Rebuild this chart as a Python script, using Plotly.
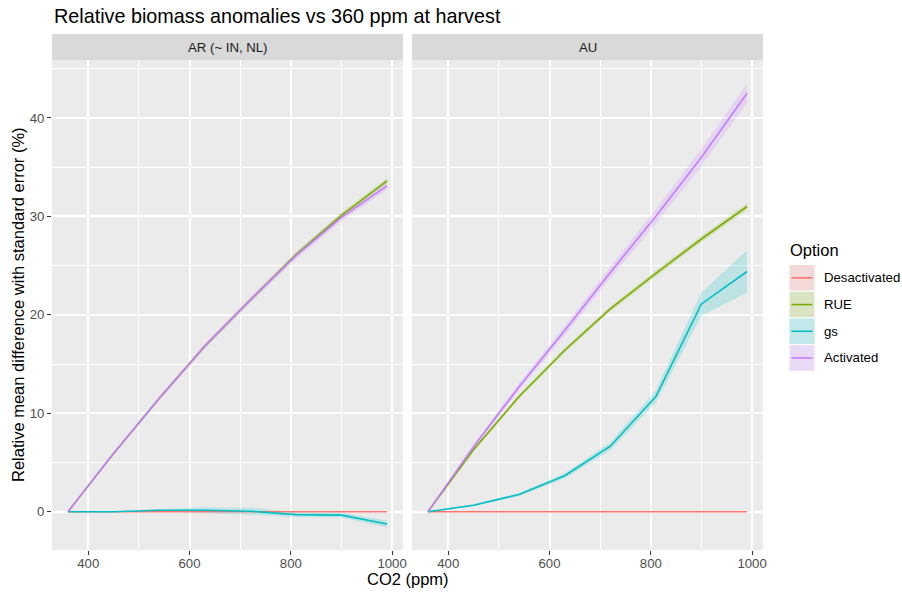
import plotly.graph_objects as go

# ---------------- data ----------------
co2 = [360, 450, 540, 630, 720, 810, 900, 990]
options = ["Desactivated", "RUE", "gs", "Activated"]
colors = ["#F8766D", "#7CAE00", "#00BFC4", "#C77CFF"]
panels = ["AR (~ IN, NL)", "AU"]

ar_desact = [0, 0, 0, 0, 0, 0, 0, 0]
ar_rue = [0, 5.9, 11.5, 16.8, 21.5, 26.1, 30.1, 33.6]
ar_gs = [0, 0.0, 0.15, 0.15, 0.05, -0.3, -0.35, -1.25]
ar_act = [0, 5.9, 11.5, 16.8, 21.5, 26.0, 29.9, 33.1]

ar_desact_se = [0, 0, 0, 0, 0, 0, 0, 0]
ar_rue_se = [0, 0.1, 0.15, 0.2, 0.2, 0.25, 0.3, 0.3]
ar_gs_se = [0, 0.05, 0.1, 0.3, 0.35, 0.25, 0.25, 0.35]
ar_act_se = [0, 0.15, 0.2, 0.25, 0.3, 0.35, 0.4, 0.4]

au_desact = [0, 0, 0, 0, 0, 0, 0, 0]
au_rue = [0, 6.3, 11.7, 16.4, 20.6, 24.2, 27.7, 31.0]
au_gs = [0, 0.65, 1.75, 3.65, 6.65, 11.7, 21.1, 24.4]
au_act = [0, 6.6, 12.7, 18.4, 24.3, 30.0, 36.0, 42.5]

au_desact_se = [0, 0, 0, 0, 0, 0, 0, 0]
au_rue_se = [0, 0.15, 0.2, 0.25, 0.25, 0.3, 0.3, 0.35]
au_gs_se = [0, 0.1, 0.15, 0.25, 0.4, 0.6, 1.2, 2.15]
au_act_se = [0, 0.25, 0.35, 0.5, 0.6, 0.75, 0.9, 1.0]

x_ticks = [400, 600, 800, 1000]
y_ticks = [0, 10, 20, 30, 40]

panel_data = {
    panels[0]: ([ar_desact, ar_rue, ar_gs, ar_act],
                [ar_desact_se, ar_rue_se, ar_gs_se, ar_act_se]),
    panels[1]: ([au_desact, au_rue, au_gs, au_act],
                [au_desact_se, au_rue_se, au_gs_se, au_act_se]),
}

FONT = "Liberation Sans, Arial, sans-serif"
ALPHA = 0.2
S_TICK, S_STRIP, S_LEG, S_AXT, S_TITLE = 13.2, 13.2, 13.2, 16.5, 19.8


def rgba(hexc, a):
    h = hexc.lstrip("#")
    r, g, b = int(h[0:2], 16), int(h[2:4], 16), int(h[4:6], 16)
    return f"rgba({r},{g},{b},{a})"


def blend(hexc, a, base=(242, 242, 242)):
    h = hexc.lstrip("#")
    c = [int(h[i:i + 2], 16) for i in (0, 2, 4)]
    m = [round(base[i] * (1 - a) + c[i] * a) for i in range(3)]
    return f"rgb({m[0]},{m[1]},{m[2]})"


fig = go.Figure()

# ribbons first
for pi, pname in enumerate(panels):
    vals, ses = panel_data[pname]
    xa = "x" if pi == 0 else "x2"
    ya = "y" if pi == 0 else "y2"
    for oi, opt in enumerate(options):
        v, s = vals[oi], ses[oi]
        upper = [a + b for a, b in zip(v, s)]
        lower = [a - b for a, b in zip(v, s)]
        fig.add_trace(go.Scatter(
            x=co2 + co2[::-1], y=upper + lower[::-1],
            fill="toself", fillcolor=rgba(colors[oi], ALPHA),
            line=dict(width=0), mode="lines", hoverinfo="skip",
            showlegend=False, xaxis=xa, yaxis=ya))

# lines
for pi, pname in enumerate(panels):
    vals, ses = panel_data[pname]
    xa = "x" if pi == 0 else "x2"
    ya = "y" if pi == 0 else "y2"
    for oi, opt in enumerate(options):
        fig.add_trace(go.Scatter(
            x=co2, y=vals[oi], mode="lines", name=opt,
            line=dict(color=colors[oi], width=1.6),
            showlegend=False, xaxis=xa, yaxis=ya))

# geometry (pixels)
W, H = 902, 594
L, R, T, B = 52, 763, 34, 550
PW, PH = R - L, B - T


def px_x(p):
    return (p - L) / PW


def px_y(p):
    return (B - p) / PH


panel_top = px_y(60)

xrange = [328.5, 1021.5]
yrange = [-3.89, 45.88]

axis_common = dict(
    range=xrange, tickvals=x_ticks, showgrid=True, gridcolor="white",
    gridwidth=1.9, zeroline=False, ticks="outside", ticklen=4,
    tickcolor="#333333", tickwidth=1.2, ticklabelstandoff=-3,
    tickfont=dict(family=FONT, size=S_TICK, color="#4D4D4D"),
    minor=dict(tickvals=[500, 700, 900], showgrid=True, gridcolor="white",
               gridwidth=0.9, ticks=""),
    showline=False, fixedrange=True,
)

fig.update_layout(
    width=W, height=H,
    margin=dict(l=L, r=W - R, t=T, b=H - B, pad=0),
    paper_bgcolor="white", plot_bgcolor="#EBEBEB",
    showlegend=False,
    font=dict(family=FONT, color="black"),
    xaxis=dict(domain=[0, px_x(403)], anchor="y", **axis_common),
    xaxis2=dict(domain=[px_x(412), 1], anchor="y2", **axis_common),
    yaxis=dict(domain=[0, panel_top], anchor="x", range=yrange,
               tickvals=y_ticks, showgrid=True, gridcolor="white",
               gridwidth=1.9, zeroline=False, ticks="outside", ticklen=4,
               tickcolor="#333333", tickwidth=1.2,
               tickfont=dict(family=FONT, size=S_TICK, color="#4D4D4D"),
               minor=dict(tickvals=[5, 15, 25, 35, 45], showgrid=True,
                          gridcolor="white", gridwidth=0.9, ticks=""),
               fixedrange=True),
    yaxis2=dict(domain=[0, panel_top], anchor="x2", range=yrange,
                matches="y", tickvals=y_ticks, showticklabels=False,
                ticks="", showgrid=True, gridcolor="white", gridwidth=1.9,
                zeroline=False,
                minor=dict(tickvals=[5, 15, 25, 35, 45], showgrid=True,
                           gridcolor="white", gridwidth=0.9, ticks=""),
                fixedrange=True),
)

shapes = []
annotations = []

# facet strips
for pi, pname in enumerate(panels):
    xr = "x domain" if pi == 0 else "x2 domain"
    shapes.append(dict(type="rect", xref=xr, yref="paper", x0=0, x1=1,
                       y0=panel_top, y1=1, fillcolor="#D9D9D9",
                       line=dict(width=0), layer="below"))
    annotations.append(dict(xref=xr, yref="paper", x=0.5, y=px_y(47),
                            text=pname, showarrow=False, xanchor="center",
                            yanchor="middle",
                            font=dict(family=FONT, size=S_STRIP,
                                      color="#1A1A1A")))

# title
annotations.append(dict(xref="paper", yref="paper", x=px_x(52), y=px_y(16),
                        text="Relative biomass anomalies vs 360 ppm at harvest",
                        showarrow=False, xanchor="left", yanchor="middle",
                        font=dict(family=FONT, size=S_TITLE, color="black")))
# axis titles
annotations.append(dict(xref="paper", yref="paper", x=px_x(408),
                        y=px_y(579), text="CO2 (ppm)", showarrow=False,
                        xanchor="center", yanchor="middle",
                        font=dict(family=FONT, size=S_AXT, color="black")))
annotations.append(dict(xref="paper", yref="paper", x=px_x(18),
                        y=px_y(305),
                        text="Relative mean difference with standard error (%)",
                        showarrow=False, textangle=-90, xanchor="center",
                        yanchor="middle",
                        font=dict(family=FONT, size=S_AXT, color="black")))

# legend (custom, ggplot-style keys)
annotations.append(dict(xref="paper", yref="paper", x=px_x(788),
                        y=px_y(250.5), text="Option", showarrow=False,
                        xanchor="left", yanchor="middle",
                        font=dict(family=FONT, size=S_AXT, color="black")))
key_top, key_h = 264.5, 26.7
for oi, opt in enumerate(options):
    y0 = key_top + oi * key_h
    y1 = y0 + key_h
    yc = (y0 + y1) / 2
    shapes.append(dict(type="rect", xref="paper", yref="paper",
                       x0=px_x(789), x1=px_x(815), y0=px_y(y1), y1=px_y(y0),
                       fillcolor=blend(colors[oi], ALPHA),
                       line=dict(color="white", width=1)))
    shapes.append(dict(type="line", xref="paper", yref="paper",
                       x0=px_x(791.5), x1=px_x(812.5), y0=px_y(yc),
                       y1=px_y(yc), line=dict(color=colors[oi], width=1.6)))
    annotations.append(dict(xref="paper", yref="paper", x=px_x(822),
                            y=px_y(yc), text=opt, showarrow=False,
                            xanchor="left", yanchor="middle",
                            font=dict(family=FONT, size=S_LEG, color="black")))

fig.update_layout(shapes=shapes, annotations=annotations)

fig.write_html("out.html",
               config={"displayModeBar": False},
               post_script="document.body.style.margin='0';"
                           "document.body.style.padding='0';")
